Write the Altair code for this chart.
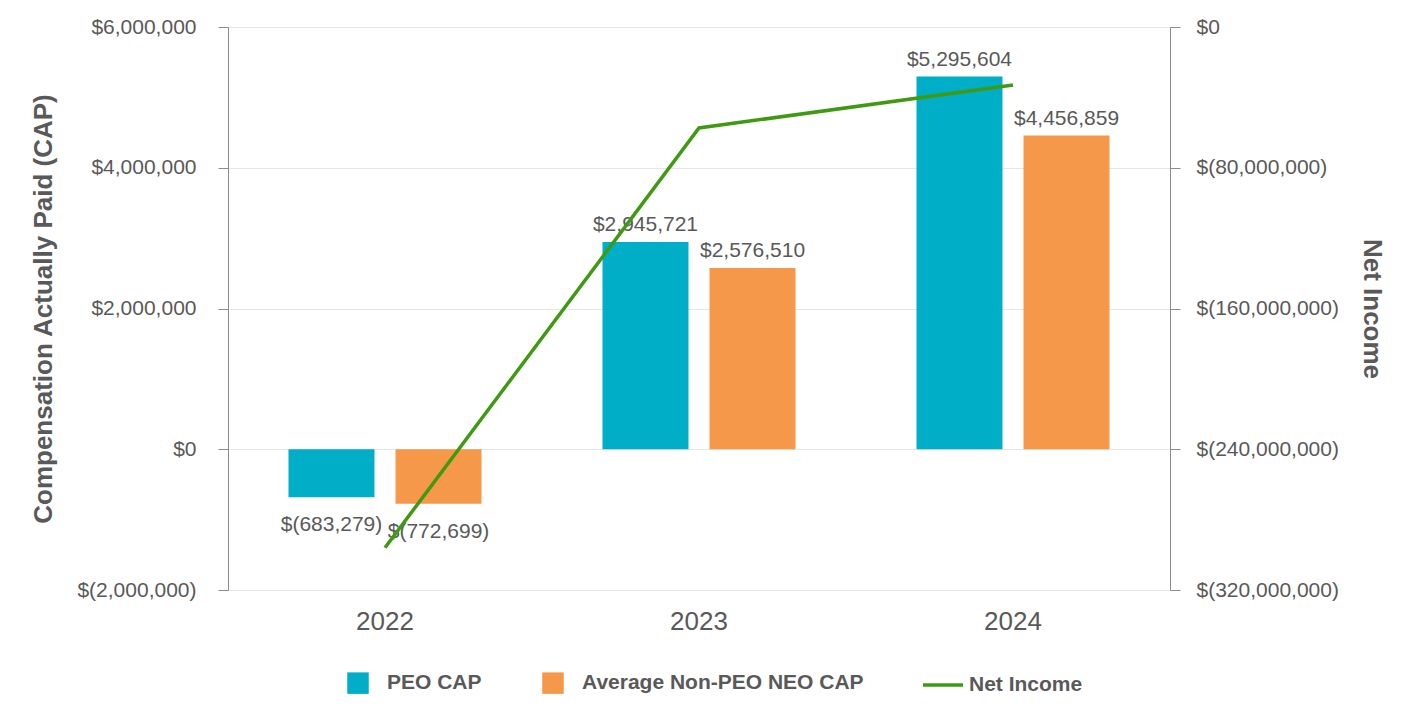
import altair as alt
import pandas as pd

years = ["2022", "2023", "2024"]
peo_cap = [-683279, 2945721, 5295604]
neo_cap = [-772699, 2576510, 4456859]
net_income = [-296000000, -57400000, -33000000]
series_names = ["PEO CAP", "Average Non-PEO NEO CAP"]
bar_colors = ["#00AEC7", "#F6984A"]
line_name = "Net Income"
line_color = "#3F9A12"

bars = pd.DataFrame(
    [{"year": y, "series": series_names[0], "value": v} for y, v in zip(years, peo_cap)]
    + [{"year": y, "series": series_names[1], "value": v} for y, v in zip(years, neo_cap)]
)
line_df = pd.DataFrame({"year": years, "net": net_income, "series": line_name})

FONT = "Liberation Sans"
GRAY = "#595959"
AXIS_GRAY = "#8c8c8c"

x = alt.X("year:N", scale=alt.Scale(paddingInner=0, paddingOuter=0),
          axis=alt.Axis(title=None, domain=False, ticks=False, labelPadding=18,
                        labelFontSize=26, labelColor=GRAY, labelAngle=0, labelFont=FONT))
xoff = alt.XOffset("series:N", sort=series_names,
                   scale=alt.Scale(paddingInner=0.196, paddingOuter=0.565))

yscale = alt.Scale(domain=[-2000000, 6000000], nice=False)
label_expr = "datum.value < 0 ? '$(' + format(-datum.value, ',') + ')' : '$' + format(datum.value, ',')"

color = alt.Color("series:N", sort=series_names,
                  scale=alt.Scale(domain=series_names, range=bar_colors),
                  legend=alt.Legend(
                      title=None, orient="none", direction="horizontal",
                      legendX=119, legendY=645,
                      labelFontSize=21, labelFontWeight="bold", labelColor=GRAY, labelFont=FONT,
                      labelLimit=1000, symbolSize=462, symbolStrokeWidth=0, labelOffset=18,
                      columnPadding=60, symbolType="square", symbolOpacity=1,
                  ))

base = alt.Chart(bars).encode(x=x, xOffset=xoff)

bar_layer = base.mark_bar(size=86).encode(
    y=alt.Y("value:Q", scale=yscale,
            axis=alt.Axis(title="Compensation Actually Paid (CAP)", values=[-2000000, 0, 2000000, 4000000, 6000000],
                          labelExpr=label_expr, labelFontSize=21, labelColor=GRAY, labelFont=FONT,
                          labelPadding=22, tickSize=10, tickColor=AXIS_GRAY, domainColor=AXIS_GRAY,
                          gridColor="#e6e6e6", titleFontSize=26, titleFontWeight="bold",
                          titleColor=GRAY, titleFont=FONT, titlePadding=20)),
    color=color,
)

pos_text = base.transform_filter("datum.value >= 0").transform_calculate(lbl=label_expr).mark_text(
    baseline="bottom", dy=-7, fontSize=21, color=GRAY, font=FONT
).encode(y=alt.Y("value:Q", scale=yscale), text="lbl:N")
neg_text = base.transform_filter("datum.value < 0").transform_calculate(lbl=label_expr).mark_text(
    baseline="top", dy=17, fontSize=21, color=GRAY, font=FONT
).encode(y=alt.Y("value:Q", scale=yscale), text="lbl:N")

left = alt.layer(bar_layer, pos_text, neg_text)

line = alt.Chart(line_df).mark_line(strokeWidth=3.5).encode(
    x=alt.X("year:N"),
    y=alt.Y("net:Q", scale=alt.Scale(domain=[-320000000, 0], nice=False),
            axis=alt.Axis(orient="right", title="Net Income", values=[-320000000, -240000000, -160000000, -80000000, 0],
                          labelExpr=label_expr, labelFontSize=21, labelColor=GRAY, labelFont=FONT,
                          labelPadding=16, tickSize=10, tickColor=AXIS_GRAY, domainColor=AXIS_GRAY,
                          grid=False, titleFontSize=26, titleFontWeight="bold", titleColor=GRAY,
                          titleFont=FONT, titlePadding=20, titleAngle=90)),
    stroke=alt.Stroke("series:N", scale=alt.Scale(domain=[line_name], range=[line_color]),
                      legend=alt.Legend(title=None, orient="none", legendX=693, legendY=636,
                                        labelFontSize=21, labelFontWeight="bold", labelColor=GRAY,
                                        labelFont=FONT, labelLimit=1000, symbolType="stroke",
                                        symbolSize=1600, symbolStrokeWidth=3.5, labelOffset=4)),
)

chart = alt.layer(left, line).resolve_scale(y="independent").properties(
    width=942, height=563,
    autosize=alt.AutoSizeParams(type="none"),
    padding={"left": 220, "top": 19, "right": 240, "bottom": 120},
).configure_view(stroke=None)

chart.save("out.html", embed_options={"renderer": "svg", "actions": False})
